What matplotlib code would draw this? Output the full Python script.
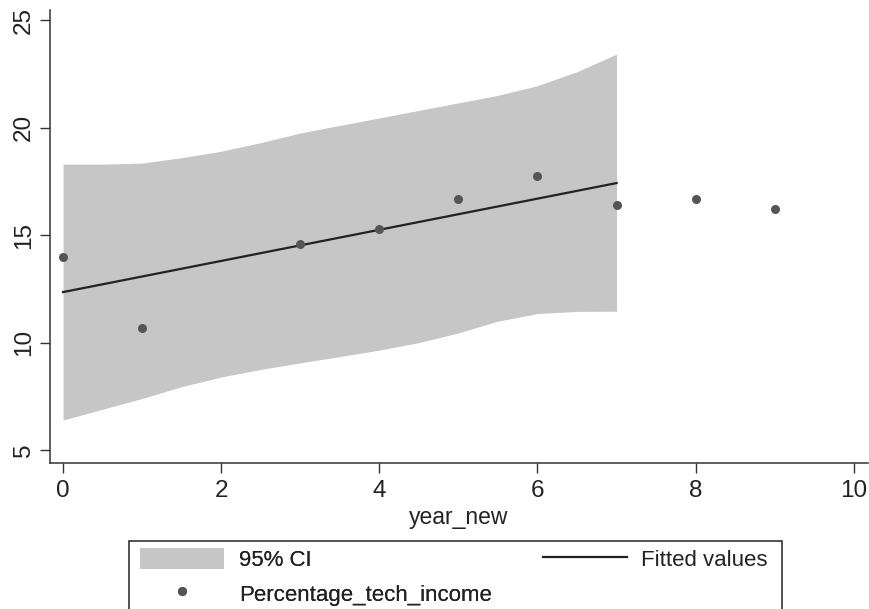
import matplotlib
matplotlib.use("Agg")
import matplotlib.pyplot as plt
from matplotlib.patches import Rectangle, Patch
from matplotlib.lines import Line2D

plt.rcParams['font.family'] = ['Liberation Sans', 'DejaVu Sans']

# ── data ─────────────────────────────────────────────────────────────────────
ci_x = [0, 0.5, 1, 1.5, 2, 2.5, 3, 3.5, 4, 4.5, 5, 5.5, 6, 6.5, 7]
ci_upper = [18.30, 18.30, 18.35, 18.60, 18.90, 19.30, 19.75, 20.10,
            20.45, 20.80, 21.15, 21.50, 21.95, 22.60, 23.42]
ci_lower = [6.40, 6.90, 7.40, 7.95, 8.40, 8.75, 9.06, 9.35,
            9.65, 10.00, 10.45, 11.00, 11.35, 11.45, 11.46]
fit_x = [0, 7]
fit_y = [12.35, 17.42]
year_new = [0, 1, 3, 4, 5, 6, 7, 8, 9]
pct_tech_income = [13.98, 10.69, 14.58, 15.28, 16.69, 17.73, 16.40, 16.68, 16.20]

xticks = [0, 2, 4, 6, 8, 10]
yticks = [5, 10, 15, 20, 25]

BAND = "#c6c6c6"
DOT = "#555555"
INK = "#222222"

W, H = 869, 609
fig = plt.figure(figsize=(W / 100, H / 100), dpi=100)
ax = fig.add_axes([50 / W, 146 / H, 818 / W, 453 / H])

ax.fill_between(ci_x, ci_lower, ci_upper, color=BAND, linewidth=0, zorder=1)
ax.plot(fit_x, fit_y, color=INK, lw=1.6, zorder=2)
ax.plot(year_new, pct_tech_income, "o", color=DOT, ms=6.5, mec="none", zorder=3)

ax.set_xlim(-0.165, 10.18)
ax.set_ylim(4.4, 25.47)
ax.set_xticks(xticks)
ax.set_yticks(yticks)
ax.set_xlabel("year_new", fontsize=16.5, color=INK, labelpad=3)

for s in ("top", "right"):
    ax.spines[s].set_visible(False)
for s in ("left", "bottom"):
    ax.spines[s].set_color("#333333")
    ax.spines[s].set_linewidth(1.1)

ax.tick_params(axis="both", direction="out", length=7, width=1.0,
               color="#333333", labelcolor=INK)
ax.tick_params(axis="x", labelsize=17.5, pad=5)
ax.tick_params(axis="y", labelsize=17.5, pad=4, labelrotation=90)
for lab in ax.get_yticklabels():
    lab.set_va("center")

# ── legend (box is cut at the figure bottom) ─────────────────────────────────
fig.patches.append(Rectangle((129 / W, -0.05), (782 - 129) / W, 0.05 + (609 - 541) / H,
                             transform=fig.transFigure, fill=False,
                             edgecolor="#333333", lw=1.2, clip_on=False))

h_ci = Patch(facecolor=BAND, edgecolor="none")
h_pt = Line2D([], [], ls="none", marker="o", color=DOT, ms=6.5, mec="none")
h_fit = Line2D([], [], color=INK, lw=1.6)

leg1 = fig.legend([h_ci, h_pt], ["95% CI", "Percentage_tech_income"],
                  loc="upper left", bbox_to_anchor=(140 / W, 1 - 548 / H),
                  frameon=False, fontsize=16, handlelength=3.8, handleheight=1.1,
                  handletextpad=0.65, labelspacing=0.5, borderpad=0, borderaxespad=0)
fig.add_artist(leg1)
for t in leg1.get_texts():
    t.set_color(INK)

leg2 = fig.legend([h_fit], ["Fitted values"],
                  loc="upper left", bbox_to_anchor=(543 / W, 1 - 548 / H),
                  frameon=False, fontsize=16, handlelength=3.8, handleheight=1.1,
                  handletextpad=0.6, borderpad=0, borderaxespad=0)
for t in leg2.get_texts():
    t.set_color(INK)

fig.savefig("out.png", dpi=100)
